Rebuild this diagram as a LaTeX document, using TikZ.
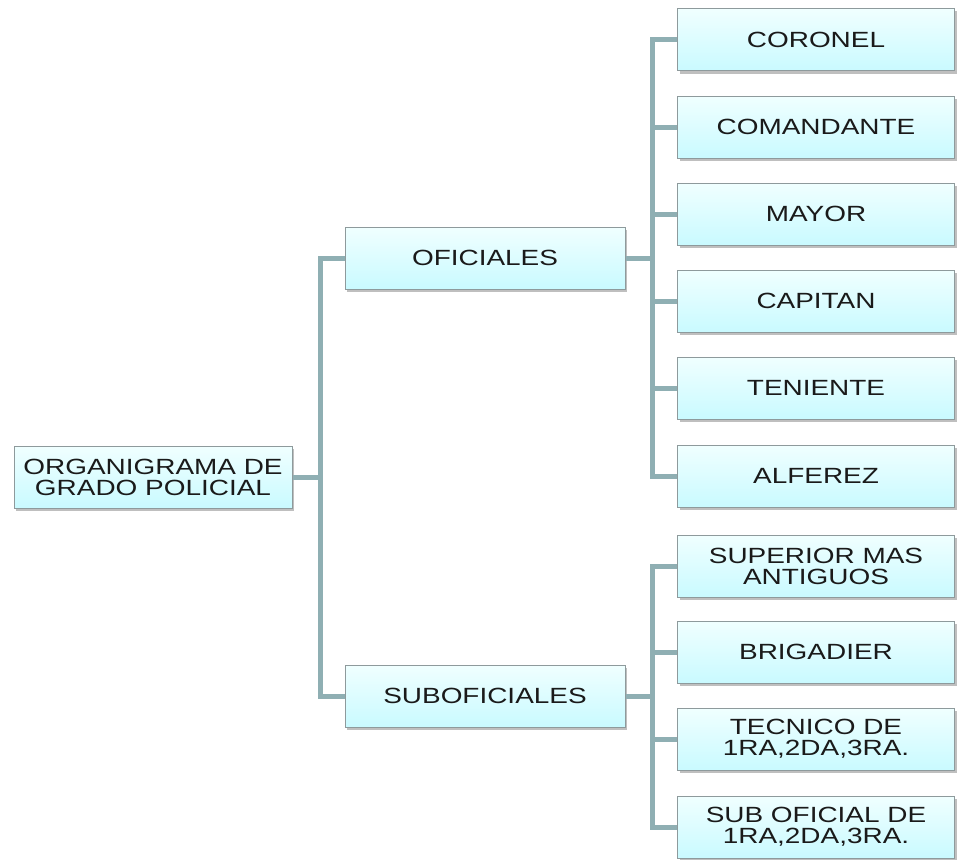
\documentclass[tikz,border=0pt]{standalone}
\usepackage{fontspec}
\setmainfont{Liberation Sans}[FakeStretch=1.27]
\usepackage{xcolor}
\usepackage{tikz}
\usetikzlibrary{shadows}

\definecolor{linkgray}{HTML}{8FAFB3}
\definecolor{boxtop}{HTML}{F0FFFF}
\definecolor{boxbottom}{HTML}{C9FAFF}
\definecolor{boxline}{HTML}{8E9A9C}
\definecolor{inkgray}{HTML}{1A1A1A}

\tikzset{
  rankbox/.style={draw=boxline, line width=1pt, top color=boxtop, bottom color=boxbottom,
    minimum width=277pt, minimum height=62pt, inner sep=2pt, align=center,
    text=inkgray, font=\fontsize{22}{21}\selectfont,
    drop shadow={shadow xshift=2pt, shadow yshift=-2.5pt, opacity=0.5}},
  link/.style={draw=linkgray, line width=5pt}
}

\begin{document}
\begin{tikzpicture}[x=1pt, y=-1pt]
  \useasboundingbox[fill=white] (0,0) rectangle (958,859);

  % root and the two branches
  \node[rankbox, minimum width=278pt] (root) at (153,477) {ORGANIGRAMA DE\\GRADO POLICIAL};
  \node[rankbox, minimum width=280pt] (ofi) at (485,258) {OFICIALES};
  \node[rankbox, minimum width=280pt] (sub) at (485,696) {SUBOFICIALES};

  % grades of the officers
  \node[rankbox] (coronel) at (816,40) {CORONEL};
  \node[rankbox] (comandante) at (816,127) {COMANDANTE};
  \node[rankbox] (mayor) at (816,214) {MAYOR};
  \node[rankbox] (capitan) at (816,301) {CAPITAN};
  \node[rankbox] (teniente) at (816,388) {TENIENTE};
  \node[rankbox] (alferez) at (816,476) {ALFEREZ};

  % grades of the non-commissioned officers
  \node[rankbox] (superior) at (816,566) {SUPERIOR MAS\\ANTIGUOS};
  \node[rankbox] (brigadier) at (816,652) {BRIGADIER};
  \node[rankbox] (tecnico) at (816,739) {TECNICO DE\\1RA,2DA,3RA.};
  \node[rankbox] (suboficial) at (816,827) {SUB OFICIAL DE\\1RA,2DA,3RA.};

  % connectors
  \foreach \kid in {ofi, sub}
    \draw[link] (root.east) -- ++(28,0) |- (\kid.west);
  \foreach \kid in {coronel, comandante, mayor, capitan, teniente, alferez}
    \draw[link] (ofi.east) -- ++(27,0) |- (\kid.west);
  \foreach \kid in {superior, brigadier, tecnico, suboficial}
    \draw[link] (sub.east) -- ++(27,0) |- (\kid.west);
\end{tikzpicture}
\end{document}
